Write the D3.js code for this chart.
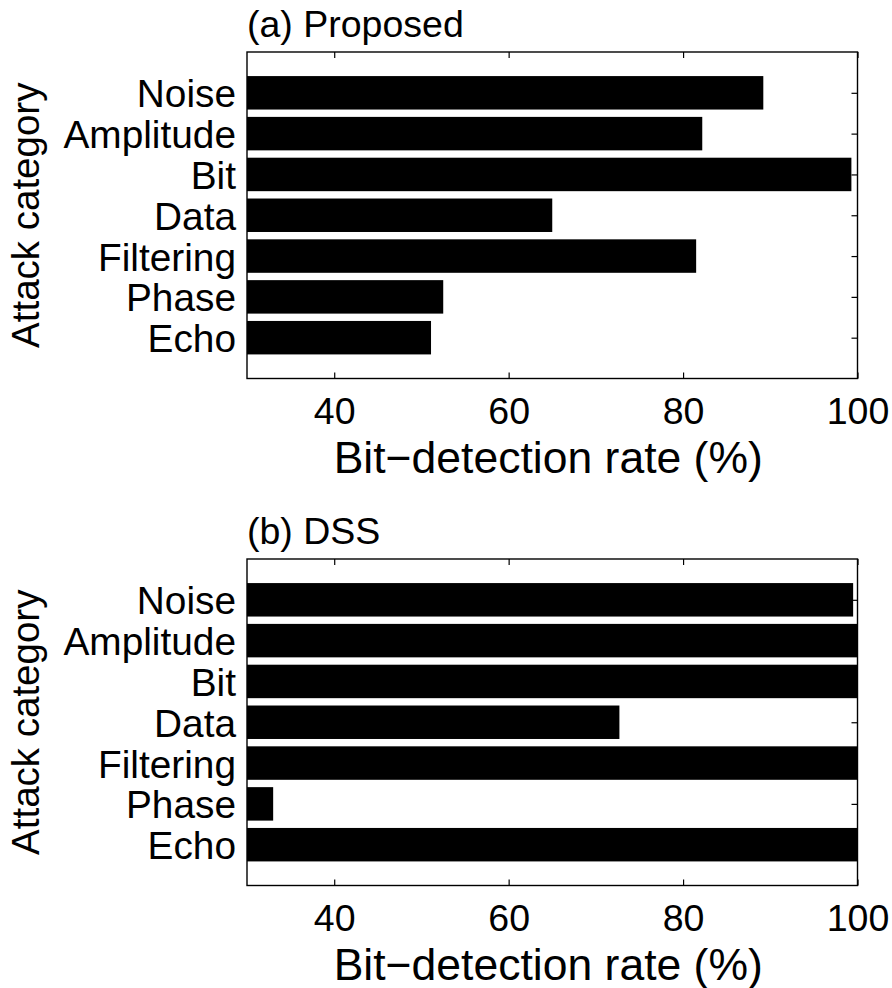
<!DOCTYPE html>
<html>
<head>
<meta charset="utf-8">
<script src="https://cdn.jsdelivr.net/npm/d3@7"></script>
<style>
  html, body { margin: 0; padding: 0; background: #fff; }
  svg { display: block; }
  text { font-family: "Liberation Sans", Arial, Helvetica, sans-serif; fill: #000; }
</style>
</head>
<body>
<svg id="chart" width="892" height="988"></svg>
<script>
// Attack categories, listed top to bottom
const categories = ["Noise", "Amplitude", "Bit", "Data", "Filtering", "Phase", "Echo"];

// Bit-detection rate (%) per attack category
const proposedRates = [89.2, 82.2, 99.3, 65.0, 81.5, 52.5, 51.1];
const dssRates = [99.5, 100, 100, 72.7, 100, 33.0, 100];

// Axis settings
const xDomain = [30, 100];
const xTickValues = [40, 60, 80, 100];
const panelTitles = ["(a) Proposed", "(b) DSS"];
const xLabel = "Bit\u2212detection rate (%)";
const yLabel = "Attack category";

const svg = d3.select("#chart");

const left = 247, right = 857.5, plotH = 326.5;
const panelTops = [52, 559];
const panelData = [proposedRates, dssRates];
const tickLen = 6;

panelData.forEach((rates, p) => {
  const top = panelTops[p];
  const bottom = top + plotH;

  const x = d3.scaleLinear().domain(xDomain).range([left, right]);
  // categories sit at positions 1..7 on a 0..8 axis, first one at the top
  const y = d3.scaleLinear().domain([0, categories.length + 1]).range([top, bottom]);
  const barH = (y(1) - y(0)) * 0.82;

  const g = svg.append("g");

  // bars
  g.append("g")
    .selectAll("rect")
    .data(rates)
    .join("rect")
    .attr("x", x(xDomain[0]))
    .attr("y", (d, i) => y(i + 1) - barH / 2)
    .attr("width", d => x(Math.min(d, xDomain[1])) - x(xDomain[0]))
    .attr("height", barH)
    .attr("fill", "#000");

  const catTicks = categories.map((c, i) => i + 1);

  // bottom x axis with labels
  const xb = g.append("g")
    .attr("transform", `translate(0,${bottom})`)
    .call(d3.axisBottom(x).tickValues(xTickValues).tickSizeInner(-tickLen).tickSizeOuter(0).tickPadding(19).tickFormat(d3.format("d")));
  // top x axis, ticks only
  const xt = g.append("g")
    .attr("transform", `translate(0,${top})`)
    .call(d3.axisTop(x).tickValues(xTickValues).tickSizeInner(-tickLen).tickSizeOuter(0).tickFormat(""));
  // left y axis with category names
  const yl = g.append("g")
    .attr("transform", `translate(${left},0)`)
    .call(d3.axisLeft(y).tickValues(catTicks).tickSizeInner(-tickLen).tickSizeOuter(0).tickPadding(11)
      .tickFormat(d => categories[d - 1]));
  // right y axis, ticks only
  const yr = g.append("g")
    .attr("transform", `translate(${right},0)`)
    .call(d3.axisRight(y).tickValues(catTicks).tickSizeInner(-tickLen).tickSizeOuter(0).tickFormat(""));

  [xb, xt, yl, yr].forEach(a => {
    a.select(".domain").remove();
    a.selectAll(".tick line").attr("stroke", "#000").attr("stroke-width", 1.2);
    a.selectAll("text").attr("font-size", 37.5)
      .attr("font-family", "'Liberation Sans', Arial, sans-serif").attr("fill", "#000");
  });
  yl.selectAll("text").attr("dy", "0.36em").attr("font-size", 38.8);

  // axes box
  g.append("rect")
    .attr("x", left).attr("y", top)
    .attr("width", right - left).attr("height", plotH)
    .attr("fill", "none").attr("stroke", "#000").attr("stroke-width", 1.4);

  // panel title
  g.append("text")
    .attr("x", left).attr("y", top - 15)
    .attr("font-size", 37.5)
    .text(panelTitles[p]);

  // x axis label
  g.append("text")
    .attr("x", (left + right) / 2 - 4).attr("y", bottom + 94)
    .attr("text-anchor", "middle")
    .attr("font-size", 44.5)
    .text(xLabel);

  // y axis label
  g.append("text")
    .attr("transform", `translate(39,${(top + bottom) / 2}) rotate(-90)`)
    .attr("text-anchor", "middle")
    .attr("font-size", 38.5)
    .text(yLabel);
});
</script>
</body>
</html>
